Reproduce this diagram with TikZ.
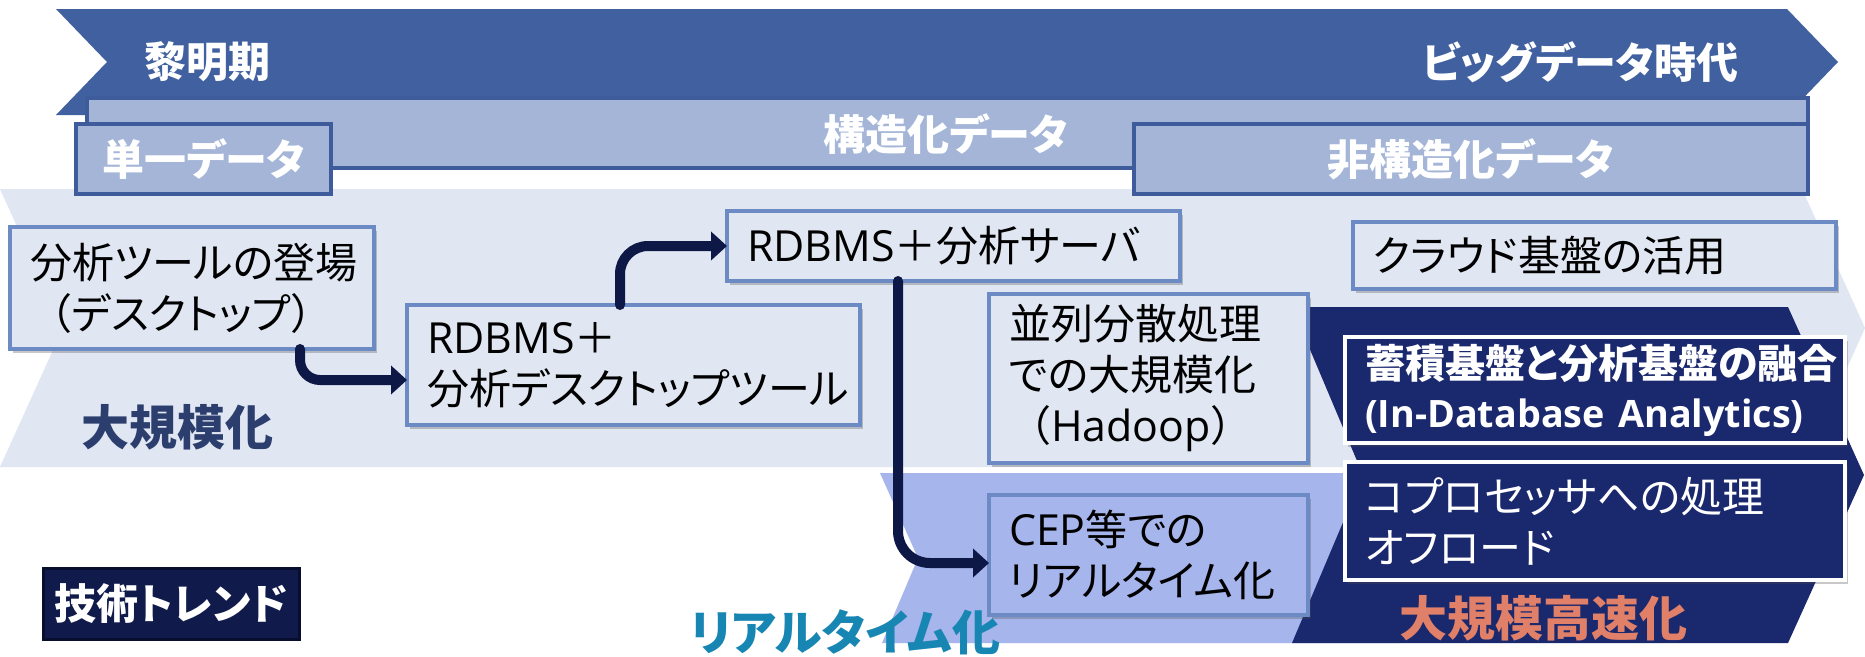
\documentclass[tikz,border=0pt]{standalone}
\usepackage{fontspec}
\setmainfont{Noto Sans CJK JP}[RawFeature=+palt]
\newfontfamily\jpn{Noto Sans CJK JP}
\newfontfamily\lat{Open Sans}[Scale=1.02]
\usetikzlibrary{arrows.meta,shadows}
\definecolor{chev}{RGB}{64,96,160}
\definecolor{strfill}{RGB}{164,181,216}
\definecolor{strline}{RGB}{62,92,155}
\definecolor{band}{RGB}{224,230,242}
\definecolor{lav}{RGB}{166,181,236}
\definecolor{navyc}{RGB}{26,40,110}
\definecolor{boxline}{RGB}{108,138,196}
\definecolor{boxfill}{RGB}{224,230,242}
\definecolor{arrowc}{RGB}{14,24,70}
\definecolor{trendfill}{RGB}{16,27,75}
\definecolor{trendline}{RGB}{8,14,45}
\definecolor{bigc}{RGB}{43,62,110}
\definecolor{rtcol}{RGB}{24,134,178}
\definecolor{salmonc}{RGB}{225,128,104}
\newcommand\mybody{\fontsize{42}{51}\selectfont}
\newcommand\myhead{\bfseries\fontsize{42}{50}\selectfont}
\newcommand\mybig{\bfseries\fontsize{48}{56}\selectfont}
\newcommand\mybold{\bfseries\fontsize{40}{49}\selectfont}
\begin{document}
\begin{tikzpicture}[x=1pt,y=-1pt,
  box/.style={draw=boxline, line width=4pt, fill=boxfill, anchor=north west,
    outer sep=0pt, inner xsep=20pt, inner ysep=0pt, align=left, font=\mybody, text=black,
    drop shadow={shadow xshift=3pt,shadow yshift=-4pt,opacity=0.3,fill=black!70}},
  navybox/.style={box, draw=white, line width=4.5pt, fill=navyc, text=white},
  lavbox/.style={box, fill=lav},
  tagbox/.style={draw=strline, line width=3.5pt, fill=strfill, anchor=north west,
    outer sep=0pt, inner sep=0pt, font=\myhead, text=white},
  trendbox/.style={draw=trendline, line width=3pt, fill=trendfill, anchor=north west,
    outer sep=0pt, inner sep=0pt, font=\myhead, text=white},
  head/.style={font=\myhead, text=white},
  arr/.style={draw=arrowc, line width=10pt, line cap=round,
    -{Triangle[width=28pt,length=16pt]}}
]
\useasboundingbox (0,0) rectangle (1865,656);
\fill[white] (0,0) rectangle (1865,656);

% bands
\fill[band] (0,189) -- (1802,189) -- (1865,328) -- (1802,467) -- (0,467) -- (63,328) -- cycle;
\fill[lav] (880,473) -- (1400,473) -- (1400,643) -- (882,643) -- (918,558) -- cycle;
\fill[navyc] (1292,307) -- (1788,307) -- (1864,475) -- (1788,643) -- (1292,643) -- (1363,475) -- cycle;

% top chevron and data bar
\fill[chev] (56,9) -- (1787,9) -- (1838,62) -- (1787,115) -- (56,115) -- (107,62) -- cycle;
\draw[strline, line width=3.5pt, fill=strfill] (87,98) rectangle (1808,168);
\node[head] (dawn) at (207,62) {黎明期};
\node[head] (bigdata) at (1580,62) {ビッグデータ時代};
\node[head] (struct) at (946,134) {構造化データ};
\node[tagbox, minimum width=255pt, minimum height=70pt] (single) at (76,124) {単一データ};
\node[tagbox, minimum width=674pt, minimum height=70pt] (unstruct) at (1134,124) {非構造化データ};

% band labels
\node[font=\mybig, text=bigc] (lscale) at (177,427) {大規模化};
\node[font=\mybig, text=rtcol] (lreal) at (845,632) {リアルタイム化};
\node[font=\mybig, text=salmonc] (lfast) at (1543,618) {大規模高速化};
\node[trendbox, minimum width=256pt, minimum height=71pt] (trend) at (43,568) {技術トレンド};

% boxes
\node[box, minimum width=364pt, minimum height=122pt, text width=324pt] (b1) at (10,227)
  {分析ツールの登場\\{\jpn （}デスクトップ{\jpn ）}};
\node[box, minimum width=453pt, minimum height=120pt, text width=413pt] (b2) at (407,305)
  {{\lat RDBMS}{\jpn ＋}\\分析デスクトップツール};
\node[box, minimum width=453pt, minimum height=70pt, text width=413pt] (b3) at (727,211)
  {{\lat RDBMS}{\jpn ＋}分析サーバ};
\node[box, minimum width=319pt, minimum height=169pt, text width=279pt] (b4) at (989,294)
  {並列分散処理\\での大規模化\\{\jpn （}{\lat Hadoop}{\jpn ）}};
\node[lavbox, minimum width=319pt, minimum height=120pt, text width=279pt] (b5) at (989,495)
  {{\lat CEP}等での\\リアルタイム化};
\node[box, minimum width=483pt, minimum height=67pt, text width=443pt] (b6) at (1353,222)
  {クラウド基盤の活用};
\node[navybox, minimum width=500pt, minimum height=106pt, text width=460pt, font=\mybold] (b7) at (1345,337)
  {蓄積基盤と分析基盤の融合\\{\lat\fontsize{37}{49}\selectfont (In-Database Analytics)}};
\node[navybox, minimum width=500pt, minimum height=118pt, text width=460pt] (b8) at (1345,462)
  {コプロセッサへの処理\\オフロード};

% connectors
\draw[arr, rounded corners=20pt] ([xshift=108pt]b1.south) |- ([yshift=-15pt]b2.west);
\draw[arr, rounded corners=28pt] ([xshift=-13.5pt]b2.north) |- (b3.west);
\draw[arr, rounded corners=32pt] ([xshift=-55.5pt]b3.south) |- ([yshift=-8pt]b5.west);
\end{tikzpicture}
\end{document}
